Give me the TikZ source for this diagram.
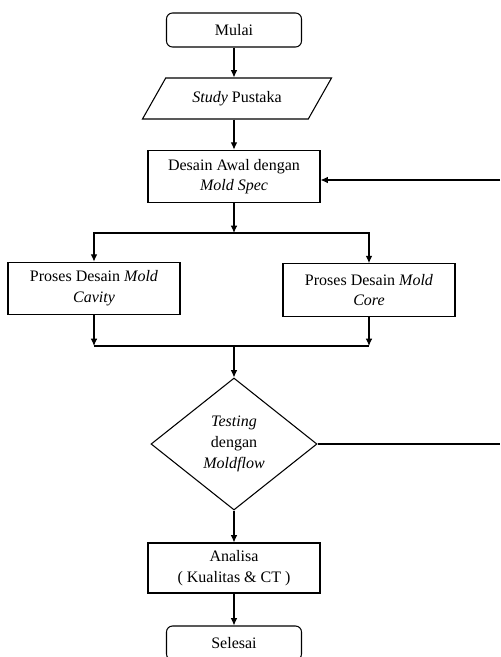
\documentclass[tikz,border=0pt]{standalone}
\usepackage{fontspec}
\setmainfont{Liberation Serif}
\usepackage{tikz}
\usetikzlibrary{shapes.geometric,arrows.meta}

\tikzset{
    base/.style={draw, line width=0.8pt, align=center, inner sep=0pt,
        font=\fontsize{12pt}{15.5pt}\selectfont},
    terminal/.style={base, rounded corners=4.5pt, minimum width=101.25pt, minimum height=25.5pt},
    process/.style={base, rectangle, minimum width=129pt, minimum height=39.5pt},
    inout/.style={base, trapezium, trapezium left angle=45, trapezium right angle=135,
        trapezium stretches=true, minimum width=142.5pt, minimum height=30.75pt},
    decision/.style={base, diamond, minimum width=124.5pt, minimum height=99pt},
    line/.style={line width=0.8pt},
    arr/.style={line, -{Latex[length=5.5pt,width=5pt]}}
}

\begin{document}
\begin{tikzpicture}[x=0.75pt,y=-0.75pt]
    \useasboundingbox (0,0) rectangle (500,657);
    \clip (0,0) rectangle (500,657);

    \node[terminal] (mulai) at (234,30) {Mulai};
    \node[inout] (studi) at (237,98.5) {\textit{Study} Pustaka};
    \node[process] (desain) at (234,176.5) {Desain Awal dengan\\\textit{Mold Spec}};
    \node[process] (cavity) at (94,288.5) {Proses Desain \textit{Mold}\\\textit{Cavity}};
    \node[process] (core) at (369,290) {Proses Desain \textit{Mold}\\\textit{Core}};
    \node[decision] (testing) at (234,444) {\textit{Testing}\\dengan\\\textit{Moldflow}};
    \node[process, minimum height=37.5pt] (analisa) at (234,568) {Analisa\\( Kualitas \& CT )};
    \node[terminal] (selesai) at (234,643) {Selesai};

    \coordinate (split) at (234,233);
    \coordinate (merge) at (234,346);
    \coordinate (backin) at (500,180);
    \coordinate (backout) at (500,444);

    \draw[arr] (mulai.south) -- (mulai.south |- studi.north);
    \draw[arr] (mulai.south |- studi.south) -- (desain.north);
    \draw[arr] (desain.south) -- (split);
    \draw[arr] (split) -| (cavity.north);
    \draw[arr] (split) -| (core.north);
    \draw[arr] (cavity.south) -- (cavity.south |- merge);
    \draw[arr] (core.south) -- (core.south |- merge);
    \draw[line] (cavity.south |- merge) -- (core.south |- merge);
    \draw[arr] (merge) -- (testing.north);
    \draw[arr] (testing.south) -- (analisa.north);
    \draw[arr] (analisa.south) -- (selesai.north);
    \draw[line] (testing.east) -- (backout);
    \draw[arr] (backin) -- (desain.east |- backin);
\end{tikzpicture}
\end{document}
